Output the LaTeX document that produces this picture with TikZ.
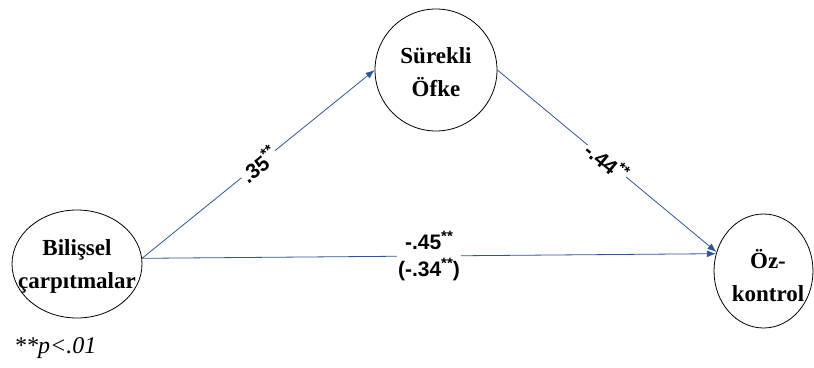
\documentclass[tikz,border=0pt]{standalone}
\usepackage{fontspec}
\setmainfont{Liberation Serif}
\newfontfamily\lblfont{Liberation Sans}
\usetikzlibrary{shapes.geometric,arrows.meta}
\definecolor{linkblue}{RGB}{47,85,151}
\newcommand{\stars}{\raisebox{0.42em}{\fontsize{15}{15}\selectfont **}}
\begin{document}
\begin{tikzpicture}[x=1pt,y=-1pt,
  var/.style={draw=black, line width=0.8pt, ellipse, inner sep=0pt},
  vartext/.style={font=\fontsize{23}{33}\selectfont\bfseries, align=center, inner sep=0pt},
  link/.style={draw=linkblue, line width=0.8pt, -{Latex[length=9pt,width=7pt]}},
  coef/.style={font=\fontsize{21}{27}\selectfont\lblfont\bfseries, fill=white, inner sep=1pt, align=center}]
\useasboundingbox (0,0) rectangle (814,367);
\node[var, minimum width=130pt, minimum height=108pt] (L) at (77,264) {};
\node[vartext] (Lt) at (77,266) {Bilişsel\\çarpıtmalar};
\node[var, minimum width=122pt, minimum height=122pt] (T) at (436,70) {};
\node[vartext] (Tt) at (436,72) {Sürekli\\Öfke};
\node[var, minimum width=99pt, minimum height=114pt] (R) at (763.5,271) {};
\node[vartext] (Rt) at (768,276) {Öz-\\kontrol};
\draw[link] (L.5) -- node[coef, sloped, midway] {.35\stars} (T.west);
\draw[link] (T.east) -- node[coef, sloped, midway] {-.44\stars} (R.158);
\draw[link] (L.5) -- node[coef, midway] {-.45\stars\\(-.34\stars)} (R.160);
\node[font=\fontsize{24}{28}\selectfont\itshape, anchor=base west, inner sep=0pt] (note) at (14,353) {**p<.01};
\end{tikzpicture}
\end{document}
